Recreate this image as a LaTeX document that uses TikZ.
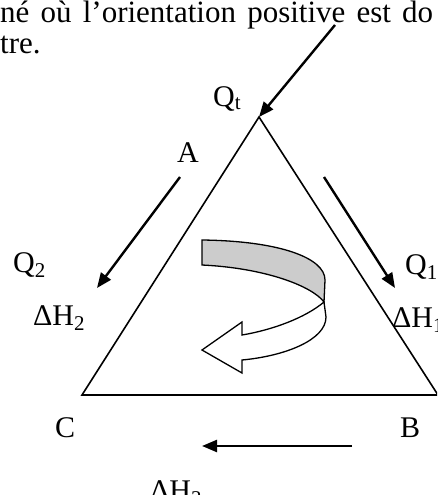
\documentclass[tikz,border=0pt]{standalone}
\usepackage{fontspec}
\setmainfont{Liberation Serif}
\usetikzlibrary{arrows.meta}
\definecolor{ribbongray}{RGB}{204,204,204}

\begin{document}
\begin{tikzpicture}[
    x=1pt, y=-1pt,
    lbl/.style={anchor=base west, inner sep=0pt, font=\fontsize{30}{34}\selectfont},
    body/.style={anchor=base west, inner sep=0pt, font=\fontsize{31}{35}\selectfont},
    flow/.style={-{Triangle[length=15pt,width=12pt]}, line width=2.4pt},
    side/.style={line width=1.6pt}
  ]
    \useasboundingbox (0,0) rectangle (437,495);
    \clip (0,0) rectangle (437,495);
    % text above the figure
    \node[body] (line1) at (0,23) {\makebox[433pt][s]{né où l’orientation positive est do}};
    \node[body] (line2) at (0,54) {tre.};
    % triangle
    \coordinate (vA) at (259,117);
    \coordinate (vB) at (438,395);
    \coordinate (vC) at (82,395);
    \draw[side] (vA) -- (vB) -- (vC) -- cycle;
    % labels
    \node[lbl] (qt) at (213,106) {Q\textsubscript{t}};
    \node[lbl] (a) at (177,162) {A};
    \node[lbl] (q2) at (13,272) {Q\textsubscript{2}};
    \node[lbl] (dh2) at (33,325) {ΔH\textsubscript{2}};
    \node[lbl] (q1) at (405,274) {Q\textsubscript{1}};
    \node[lbl] (dh1) at (392,327) {ΔH\textsubscript{1}};
    \node[lbl] (c) at (55,437) {C};
    \node[lbl] (b) at (400,437) {B};
    \node[lbl] (dh3) at (150,500) {ΔH\textsubscript{3}};
    % arrows
    \coordinate (t0) at (335,25);
    \coordinate (l0) at (180,177);
    \coordinate (l1) at (97,288);
    \coordinate (r0) at (324,177);
    \coordinate (r1) at (395,288);
    \coordinate (b0) at (352,446);
    \coordinate (b1) at (202,446);
    \draw[flow] (t0) -- (vA);
    \draw[flow] (l0) -- (l1);
    \draw[flow] (r0) -- (r1);
    \draw[flow] (b0) -- (b1);
    % turning ribbon
    \draw[line width=1.3pt, fill=ribbongray] (202,240) .. controls (280,241) and (325,258) .. (325,280)
      -- (324,302) .. controls (312,286) and (265,268) .. (202,265) -- cycle;
    \draw[line width=1.3pt, fill=white] (324,302) .. controls (305,318) and (272,330) .. (242,335)
      -- (242,322) -- (202,350) -- (242,373) -- (242,360)
      .. controls (285,356) and (326,340) .. (326,317) -- cycle;
\end{tikzpicture}
\end{document}
